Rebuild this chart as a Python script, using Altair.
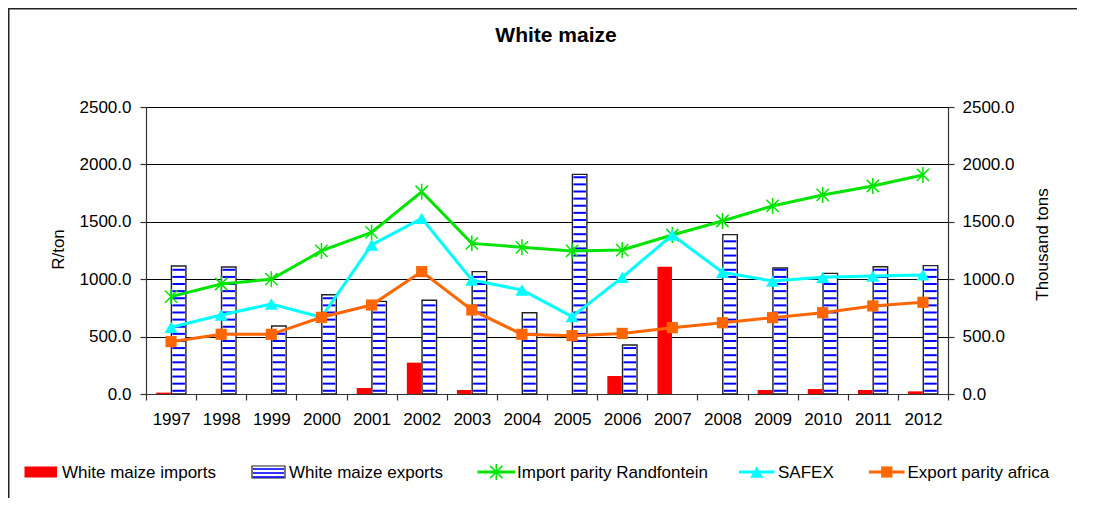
import altair as alt
import pandas as pd

# ---------------- data ----------------
years = [str(y) for y in range(1997, 2013)]
imports = [12, 0, 0, 0, 52, 273, 35, 0, 0, 157, 1109, 0, 35, 43, 35, 23]
exports = [1115, 1106, 592, 865, 807, 816, 1066, 708, 1913, 427, 0, 1388, 1098, 1051, 1109, 1118]
import_parity = [848, 958, 1000, 1246, 1408, 1762, 1312, 1278, 1246, 1254, 1385, 1507, 1638, 1734, 1812, 1908]
safex = [581, 688, 784, 668, 1298, 1530, 993, 906, 674, 1016, 1385, 1060, 984, 1016, 1028, 1037]
export_parity = [456, 520, 520, 668, 775, 1066, 732, 520, 508, 528, 578, 621, 665, 708, 767, 799]
series_names = ["White maize imports", "White maize exports", "Import parity Randfontein",
                "SAFEX", "Export parity africa"]
y_ticks = [0, 500, 1000, 1500, 2000, 2500]
title_text = "White maize"
left_title = "R/ton"
right_title = "Thousand tons"

# ---------------- layout helpers ----------------
W, H = 802, 287
PAD = {"left": 138, "top": 99, "right": 130, "bottom": 105}
X0, Y0 = 8 + PAD["left"], 8 + PAD["top"]   # page position of plot origin
SVG_R = 8 + PAD["left"] + W + PAD["right"]
SVG_B = 8 + PAD["top"] + H + PAD["bottom"]
FONT = "Liberation Sans"


def px(x):
    return x - X0


def py(y):
    return y - Y0


GREEN = "#00E400"
CYAN = "#00FFFF"
ORANGE = "#FF6600"
RED = "#FF0000"
BLUE = "#0000FF"

bars_df = pd.DataFrame({"year": years, "imports": imports, "exports": exports})
lines_df = pd.DataFrame({"year": years, "ip": import_parity, "safex": safex, "ep": export_parity})
one = pd.DataFrame({"k": [0]})

x_enc = alt.X("year:O", scale=alt.Scale(domain=years, paddingInner=0, paddingOuter=0),
              axis=alt.Axis(title=None, tickBand="extent", labelAngle=0, tickSize=6,
                            labelPadding=11, grid=False))

y_scale = alt.Scale(domain=[0, 2500], nice=False)
right_axis = alt.Axis(orient="right", values=y_ticks, format=".1f", title=right_title,
                      grid=False, tickSize=6, labelPadding=8,
                      titleAngle=270, titleX=94, titleY=137, titleAlign="center",
                      titleBaseline="middle")
left_axis = alt.Axis(orient="left", values=y_ticks, format=".1f", title=left_title,
                     grid=True, gridColor="#000000", gridWidth=1, tickSize=6, labelPadding=9,
                     titleAngle=270, titleX=-88, titleY=142, titleAlign="center",
                     titleBaseline="middle")

BW = 14.5
OFF = 7.6

export_bars = alt.Chart(bars_df).transform_filter("datum.exports > 0").mark_bar(
    width=BW, xOffset=OFF, fill="white", stroke="#222222", strokeWidth=1.4
).encode(x=x_enc, y=alt.Y("exports:Q", scale=y_scale, axis=right_axis))

stripes = alt.Chart(bars_df).transform_calculate(
    stripe="sequence(28, datum.exports - 12, 62)"
).transform_flatten(["stripe"]).mark_tick(
    orient="horizontal", size=12.5, thickness=2, color=BLUE, xOffset=OFF, opacity=1
).encode(x=x_enc, y=alt.Y("stripe:Q", scale=y_scale, axis=right_axis))

import_bars = alt.Chart(bars_df).transform_filter("datum.imports > 0").mark_bar(
    width=BW, xOffset=-OFF, color=RED
).encode(x=x_enc, y=alt.Y("imports:Q", scale=y_scale, axis=right_axis))

right_group = alt.layer(export_bars, stripes, import_bars)

STAR = "M-1,-1L1,1M-1,1L1,-1M0,-1.3L0,1.3"

ip_line = alt.Chart(lines_df).mark_line(color=GREEN, strokeWidth=3).encode(
    x=x_enc, y=alt.Y("ip:Q", scale=y_scale, axis=left_axis))
ip_pts = alt.Chart(lines_df).mark_point(shape=STAR, size=150, filled=False, stroke=GREEN,
                                       strokeWidth=1.5, opacity=1).encode(
    x=x_enc, y=alt.Y("ip:Q", scale=y_scale, axis=left_axis))
sf_line = alt.Chart(lines_df).mark_line(color=CYAN, strokeWidth=3).encode(
    x=x_enc, y=alt.Y("safex:Q", scale=y_scale, axis=left_axis))
sf_pts = alt.Chart(lines_df).mark_point(shape="triangle-up", size=170, filled=True, color=CYAN,
                                       opacity=1).encode(
    x=x_enc, y=alt.Y("safex:Q", scale=y_scale, axis=left_axis))
ep_line = alt.Chart(lines_df).mark_line(color=ORANGE, strokeWidth=3).encode(
    x=x_enc, y=alt.Y("ep:Q", scale=y_scale, axis=left_axis))
ep_pts = alt.Chart(lines_df).mark_point(shape="square", size=125, filled=True, color=ORANGE,
                                       opacity=1).encode(
    x=x_enc, y=alt.Y("ep:Q", scale=y_scale, axis=left_axis))

left_group = alt.layer(ip_line, sf_line, ep_line, ip_pts, sf_pts, ep_pts)

# ---------------- decorations ----------------
deco = []
# outer frame: left edge and top edge (right / bottom edges lie outside the picture)
deco.append(alt.Chart(one).mark_rule(color="#222222", strokeWidth=1.5, strokeCap="butt").encode(
    x=alt.value(px(8.75)), y=alt.value(py(8)), y2=alt.value(py(SVG_B - 1))))
deco.append(alt.Chart(one).mark_rule(color="#222222", strokeWidth=1.5, strokeCap="butt").encode(
    x=alt.value(px(8)), x2=alt.value(px(SVG_R - 1)), y=alt.value(py(8.75))))
deco.append(alt.Chart(one).mark_text(text=title_text, font=FONT, fontSize=21, fontWeight="bold",
                                     align="center", baseline="alphabetic", color="black").encode(
    x=alt.value(px(556)), y=alt.value(py(41.7))))

LY = py(472)


def legend_text(label, x):
    return alt.Chart(one).mark_text(text=label, font=FONT, fontSize=17, align="left",
                                    baseline="middle", color="black").encode(
        x=alt.value(px(x)), y=alt.value(LY + 1))


# imports swatch
deco.append(alt.Chart(one).mark_rect(color=RED).encode(
    x=alt.value(px(24.5)), x2=alt.value(px(57)), y=alt.value(LY - 5.5), y2=alt.value(LY + 5.5)))
deco.append(legend_text(series_names[0], 62))
# exports swatch
deco.append(alt.Chart(one).mark_rect(fill="white", stroke="#222222", strokeWidth=1.2).encode(
    x=alt.value(px(252)), x2=alt.value(px(285)), y=alt.value(LY - 6), y2=alt.value(LY + 6)))
for dy in (-3, 1, 5):
    deco.append(alt.Chart(one).mark_rule(color=BLUE, strokeWidth=1.6).encode(
        x=alt.value(px(253)), x2=alt.value(px(284)), y=alt.value(LY + dy)))
deco.append(legend_text(series_names[1], 289))


def legend_line(x1, x2, color, pt_mark):
    out = [alt.Chart(one).mark_rule(color=color, strokeWidth=3).encode(
        x=alt.value(px(x1)), x2=alt.value(px(x2)), y=alt.value(LY))]
    out.append(pt_mark.encode(x=alt.value(px((x1 + x2) / 2)), y=alt.value(LY)))
    return out


deco += legend_line(477.5, 515, GREEN,
                    alt.Chart(one).mark_point(shape=STAR, size=150, filled=False, stroke=GREEN,
                                              strokeWidth=1.5, opacity=1))
deco.append(legend_text(series_names[2], 517))
deco += legend_line(739, 774.5, CYAN,
                    alt.Chart(one).mark_point(shape="triangle-up", size=170, filled=True,
                                              color=CYAN, opacity=1))
deco.append(legend_text(series_names[3], 778))
deco += legend_line(869, 904.5, ORANGE,
                    alt.Chart(one).mark_point(shape="square", size=125, filled=True,
                                              color=ORANGE, opacity=1))
deco.append(legend_text(series_names[4], 907.5))

deco_group = alt.layer(*deco)

chart = alt.layer(right_group, left_group, deco_group).resolve_scale(
    y="independent"
).properties(
    width=W, height=H,
    autosize=alt.AutoSizeParams(type="none"),
    padding=PAD,
    background="white",
).configure_view(
    stroke="#999999", strokeWidth=1
).configure_axis(
    labelFont=FONT, labelFontSize=17, labelColor="black",
    titleFont=FONT, titleFontSize=17, titleFontWeight="normal", titleColor="black",
    domainColor="#333333", domainWidth=1.2, tickColor="#333333", tickWidth=1.2,
)

chart.save("out.html", embed_options={"renderer": "svg", "actions": False})
